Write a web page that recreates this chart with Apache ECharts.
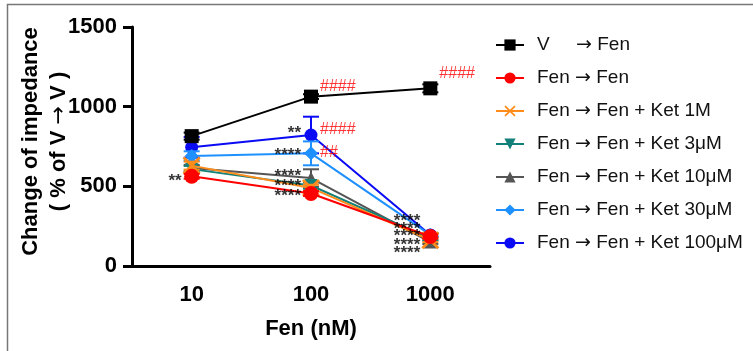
<!DOCTYPE html>
<html>
<head>
<meta charset="utf-8">
<script src="https://cdn.jsdelivr.net/npm/echarts@6/dist/echarts.min.js"></script>
<style>
html,body{margin:0;padding:0;background:#fff;}
#chart{width:753px;height:351px;}
</style>
</head>
<body>
<div id="chart"></div>
<script>
// ---- data ----
const categories = ['10', '100', '1000'];
const yTicks = [0, 500, 1000, 1500];
const seriesNames = [
  'V     \u2192 Fen',
  'Fen \u2192 Fen',
  'Fen \u2192 Fen + Ket 1M',
  'Fen \u2192 Fen + Ket 3\u03bcM',
  'Fen \u2192 Fen + Ket 10\u03bcM',
  'Fen \u2192 Fen + Ket 30\u03bcM',
  'Fen \u2192 Fen + Ket 100\u03bcM'
];
const xAxisTitle = 'Fen (nM)';
const yAxisTitle = ['Change of impedance', '( % of V \u2192 V )'];
const vFen      = [815, 1063, 1115];
const fenFen    = [563, 455, 185];
const ket1      = [630, 490, 162];
const ket3      = [608, 505, 172];
const ket10     = [615, 552, 150];
const ket30     = [690, 707, 195];
const ket100    = [745, 822, 195];
const vFenErr   = [22, 15, 25];
const fenFenErr = [15, 15, 12];
const ket1Err   = [25, 20, 12];
const ket3Err   = [20, 20, 12];
const ket10Err  = [20, 55, 12];
const ket30Err  = [30, 75, 12];
const ket100Err = [65, 115, 12];
// annotations: category index, value, text, colour, side
const annCat   = [1, 2, 1, 1, 1, 1, 1, 1, 1, 0, 2, 2, 2, 2, 2];
const annValue = [1125, 1205, 854, 854, 715, 712, 583, 520, 457, 553, 301, 251, 207, 151, 100];
const annText  = ['####', '####', '**', '####', '****', '##', '****', '****', '****', '**', '****', '****', '****', '****', '****'];
const annColor = ['red', 'red', 'black', 'red', 'black', 'red', 'black', 'black', 'black', 'black', 'black', 'black', 'black', 'black', 'black'];
const annSide  = ['R', 'R', 'L', 'R', 'L', 'R', 'L', 'L', 'L', 'L', 'L', 'L', 'L', 'L', 'L'];

// ---- styles ----
const FONT = 'Liberation Sans, Arial, sans-serif';
const ARROW_FONT = 'DejaVu Sans';
const values = [vFen, fenFen, ket1, ket3, ket10, ket30, ket100];
const errors = [vFenErr, fenFenErr, ket1Err, ket3Err, ket10Err, ket30Err, ket100Err];
const colors = ['#000000', '#ff0000', '#ff8c1a', '#138079', '#555555', '#1e90ff', '#0a0af5'];
const xPath = 'path://M0,1.1L1.1,0L5,3.9L8.9,0L10,1.1L6.1,5L10,8.9L8.9,10L5,6.1L1.1,10L0,8.9L3.9,5Z';
const symbols = ['rect', 'circle', xPath, 'triangle', 'triangle', 'diamond', 'circle'];
const symbolSizes = [14, 15, 18, 13, 13, 14, 13];
const symbolRotates = [0, 0, 0, 180, 0, 0, 0];

function withArrow(s, cls) {
  const parts = s.split('\u2192');
  if (parts.length < 2) return '{' + cls + '|' + s + '}';
  return '{' + cls + '|' + parts[0] + '}{arr|\u2192}{' + cls + '|' + parts[1] + '}';
}

const series = [];
values.forEach((vals, i) => {
  const z = 10 - i;
  series.push({
    name: seriesNames[i],
    type: 'line',
    data: vals,
    color: colors[i],
    symbol: symbols[i],
    symbolSize: symbolSizes[i],
    symbolRotate: symbolRotates[i],
    showAllSymbol: true,
    lineStyle: { width: 2, color: colors[i] },
    itemStyle: { color: colors[i], opacity: 1 },
    z: z,
    animation: false,
    emphasis: { disabled: true }
  });
  series.push({
    name: seriesNames[i] + ' err',
    type: 'custom',
    data: vals.map((v, k) => [k, v - errors[i][k], v + errors[i][k]]),
    z: z,
    silent: true,
    animation: false,
    renderItem: function (params, api) {
      const x = api.value(0);
      const lo = api.coord([x, api.value(1)]);
      const hi = api.coord([x, api.value(2)]);
      const hw = 8;
      const st = { stroke: colors[i], lineWidth: 2 };
      return {
        type: 'group',
        children: [
          { type: 'line', shape: { x1: hi[0], y1: hi[1], x2: lo[0], y2: lo[1] }, style: st },
          { type: 'line', shape: { x1: hi[0] - hw, y1: hi[1], x2: hi[0] + hw, y2: hi[1] }, style: st },
          { type: 'line', shape: { x1: lo[0] - hw, y1: lo[1], x2: lo[0] + hw, y2: lo[1] }, style: st }
        ]
      };
    }
  });
});

series.push({
  name: 'annotations',
  type: 'scatter',
  symbolSize: 0,
  z: 20,
  silent: true,
  animation: false,
  data: annCat.map((c, k) => {
    const isStar = annText[k].indexOf('*') >= 0;
    return {
      value: [c, annValue[k]],
      label: {
        show: true,
        formatter: annText[k],
        color: annColor[k],
        position: annSide[k] === 'R' ? 'right' : 'left',
        distance: annSide[k] === 'R' ? 9 : 10,
        fontFamily: FONT,
        fontSize: isStar ? 17 : 16,
        fontWeight: isStar ? 'bold' : 'normal',
        offset: [0, isStar ? 3 : 0]
      }
    };
  })
});

const chart = echarts.init(document.getElementById('chart'), null, { renderer: 'canvas' });
chart.setOption({
  animation: false,
  backgroundColor: '#ffffff',
  textStyle: { fontFamily: FONT },
  graphic: [{
    type: 'rect',
    shape: { x: 7.5, y: 4.5, width: 800, height: 400 },
    style: { fill: 'none', stroke: '#777777', lineWidth: 1.5 },
    silent: true
  }],
  grid: { left: 132, right: 263, top: 27, bottom: 85, containLabel: false },
  legend: {
    data: seriesNames,
    orient: 'vertical',
    left: 490,
    top: 30,
    itemWidth: 28,
    itemHeight: 14,
    itemGap: 13,
    selectedMode: false,
    formatter: function (name) { return withArrow(name, 't'); },
    textStyle: {
      fontSize: 19, color: '#111111', fontFamily: FONT, padding: [0, 0, 0, 8], lineHeight: 20,
      rich: {
        t: { fontSize: 19, color: '#111111', fontFamily: FONT, lineHeight: 20 },
        arr: { fontSize: 19, color: '#111111', fontFamily: ARROW_FONT, fontWeight: 'normal', lineHeight: 20 }
      }
    }
  },
  xAxis: {
    type: 'category',
    data: categories,
    boundaryGap: true,
    name: xAxisTitle,
    nameLocation: 'middle',
    nameGap: 52,
    nameMoveOverlap: false,
    nameTextStyle: { fontSize: 22, fontWeight: 'bold', color: '#000' },
    axisLine: { lineStyle: { color: '#000', width: 3 } },
    axisTick: { alignWithLabel: true, length: 9, lineStyle: { width: 3, color: '#000' } },
    axisLabel: { fontSize: 22, fontWeight: 'bold', color: '#000', margin: 18 },
    splitLine: { show: false }
  },
  yAxis: {
    type: 'value',
    min: yTicks[0],
    max: yTicks[yTicks.length - 1],
    interval: 500,
    name: '{t|' + yAxisTitle[0] + '}\n' + withArrow(yAxisTitle[1], 't'),
    nameLocation: 'middle',
    nameRotate: 90,
    nameGap: 59,
    nameMoveOverlap: false,
    nameTextStyle: {
      fontSize: 22, fontWeight: 'bold', color: '#000', lineHeight: 28, padding: [0, 0, 0, 10],
      rich: {
        t: { fontSize: 22, fontWeight: 'bold', color: '#000', fontFamily: FONT, lineHeight: 28 },
        arr: { fontSize: 22, fontWeight: 'normal', color: '#000', fontFamily: ARROW_FONT, lineHeight: 28 }
      }
    },
    axisLine: { show: true, lineStyle: { color: '#000', width: 3 } },
    axisTick: { show: true, length: 9, lineStyle: { width: 3, color: '#000' } },
    axisLabel: { fontSize: 22, fontWeight: 'bold', color: '#000', margin: 15, formatter: function (v) { return String(v); } },
    splitLine: { show: false }
  },
  series: series
});
</script>
</body>
</html>
